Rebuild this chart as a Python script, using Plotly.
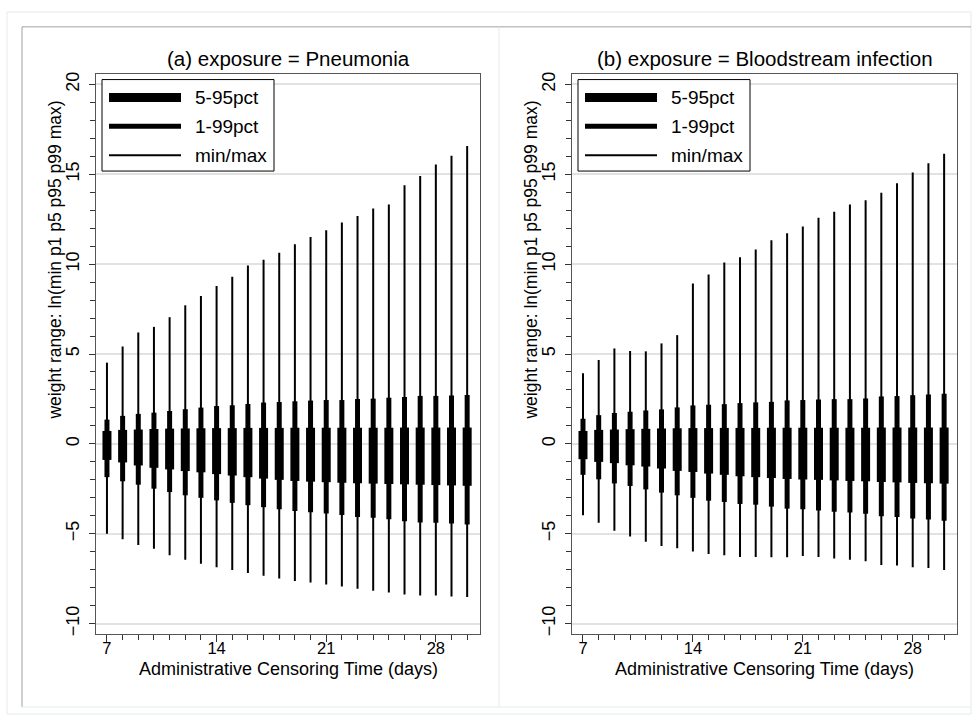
import plotly.graph_objects as go

W, H = 977, 717

days = list(range(7, 31))
x_ticks = [7, 14, 21, 28]
y_ticks = [-10, -5, 0, 5, 10, 15, 20]

panel_titles = ["(a) exposure = Pneumonia", "(b) exposure = Bloodstream infection"]
x_title = "Administrative Censoring Time (days)"
y_title = "weight range: ln(min p1 p5 p95 p99 max)"
legend_labels = ["5-95pct", "1-99pct", "min/max"]

# Pneumonia
pn_min = [-5.00, -5.31, -5.63, -5.83, -6.20, -6.44, -6.66, -6.86, -7.01, -7.18, -7.34, -7.49,
          -7.62, -7.71, -7.82, -7.93, -8.06, -8.17, -8.27, -8.38, -8.43, -8.43, -8.49, -8.51]
pn_p1 = [-1.85, -2.08, -2.27, -2.49, -2.68, -2.86, -3.00, -3.14, -3.28, -3.41, -3.52, -3.63,
         -3.73, -3.80, -3.87, -3.95, -4.06, -4.11, -4.19, -4.30, -4.37, -4.39, -4.43, -4.48]
pn_p5 = [-0.89, -1.03, -1.20, -1.33, -1.42, -1.51, -1.58, -1.68, -1.76, -1.85, -1.93, -2.00,
         -2.06, -2.10, -2.13, -2.16, -2.19, -2.21, -2.23, -2.25, -2.27, -2.29, -2.31, -2.33]
pn_p95 = [0.72, 0.78, 0.80, 0.83, 0.85, 0.86, 0.87, 0.88, 0.88, 0.89, 0.89, 0.89,
          0.90, 0.90, 0.90, 0.90, 0.90, 0.90, 0.90, 0.91, 0.91, 0.91, 0.91, 0.91]
pn_p99 = [1.35, 1.56, 1.67, 1.74, 1.83, 1.93, 2.02, 2.11, 2.15, 2.22, 2.30, 2.33,
          2.37, 2.41, 2.44, 2.44, 2.50, 2.52, 2.57, 2.61, 2.67, 2.67, 2.69, 2.72]
pn_max = [4.52, 5.42, 6.20, 6.51, 7.05, 7.71, 8.23, 8.78, 9.30, 9.93, 10.24, 10.63,
          11.11, 11.51, 11.88, 12.32, 12.68, 13.10, 13.32, 14.39, 14.91, 15.54, 16.03, 16.57]

# Bloodstream infection
bs_min = [-3.97, -4.39, -4.83, -5.15, -5.44, -5.68, -5.81, -5.98, -6.13, -6.20, -6.29, -6.29,
          -6.31, -6.31, -6.24, -6.29, -6.38, -6.44, -6.53, -6.73, -6.77, -6.86, -6.90, -7.01]
bs_p1 = [-1.72, -1.97, -2.20, -2.34, -2.53, -2.71, -2.86, -3.00, -3.16, -3.23, -3.34, -3.38,
         -3.49, -3.60, -3.64, -3.71, -3.78, -3.82, -3.88, -4.03, -4.07, -4.15, -4.21, -4.28]
bs_p5 = [-0.85, -1.00, -1.07, -1.19, -1.26, -1.37, -1.50, -1.56, -1.65, -1.72, -1.80, -1.85,
         -1.90, -1.95, -1.98, -2.00, -2.03, -2.06, -2.08, -2.12, -2.14, -2.17, -2.19, -2.21]
bs_p95 = [0.72, 0.78, 0.80, 0.82, 0.84, 0.86, 0.87, 0.88, 0.88, 0.89, 0.89, 0.89,
          0.90, 0.90, 0.90, 0.90, 0.90, 0.90, 0.90, 0.91, 0.91, 0.91, 0.91, 0.91]
bs_p99 = [1.40, 1.60, 1.72, 1.79, 1.86, 1.92, 2.03, 2.14, 2.18, 2.21, 2.27, 2.31,
          2.34, 2.42, 2.44, 2.47, 2.49, 2.49, 2.53, 2.64, 2.66, 2.71, 2.75, 2.79]
bs_max = [3.93, 4.67, 5.31, 5.17, 5.15, 5.59, 6.05, 8.93, 9.43, 10.09, 10.39, 10.81,
          11.33, 11.72, 12.10, 12.58, 12.92, 13.32, 13.56, 13.97, 14.50, 15.10, 15.61, 16.14]

FONT = "Liberation Sans, Arial, sans-serif"
widths = [9, 5, 2]  # 5-95, 1-99, min/max


def px(x):
    return x / W


def py(y):
    return 1 - y / H


fig = go.Figure()


def add_panel(xa, ya, mins, p1, p5, p95, p99, maxs):
    for lo, hi, w in [(mins, maxs, widths[2]), (p1, p99, widths[1]), (p5, p95, widths[0])]:
        xs, ys = [], []
        for d, a, b in zip(days, lo, hi):
            xs += [d, d, None]
            ys += [a, b, None]
        fig.add_trace(go.Scatter(x=xs, y=ys, mode="lines", line=dict(color="black", width=w),
                                 xaxis=xa, yaxis=ya, showlegend=False, hoverinfo="skip",
                                 connectgaps=False))


add_panel("x", "y", pn_min, pn_p1, pn_p5, pn_p95, pn_p99, pn_max)
add_panel("x2", "y2", bs_min, bs_p1, bs_p5, bs_p95, bs_p99, bs_max)

plot_left = [96, 572]
plot_right = [480, 957]
plot_top, plot_bot = 72, 636

xaxis_common = dict(range=[6.3, 30.82], tickvals=x_ticks, ticks="outside", ticklen=7,
                    tickcolor="#333", tickwidth=1, showline=True, linecolor="#555", linewidth=1,
                    mirror=True, showgrid=False, zeroline=False, ticklabelstandoff=-8,
                    tickfont=dict(family=FONT, size=16.5, color="black"),
                    minor=dict(dtick=1, tick0=0, ticks="outside", ticklen=5, tickcolor="#333",
                               showgrid=False))
yaxis_common = dict(range=[-10.6, 20.6], tickvals=y_ticks, ticks="outside", ticklen=6,
                    tickcolor="#333", tickwidth=1, tickangle=-90, showline=True,
                    linecolor="#555", linewidth=1, mirror=True, showgrid=True,
                    gridcolor="#e2e2e2", gridwidth=1.5, zeroline=False,
                    ticklabelstandoff=3,
                    tickfont=dict(family=FONT, size=18, color="black"),
                    minor=dict(dtick=1, tick0=0, ticks="outside", ticklen=5, tickcolor="#333",
                               showgrid=False),
                    domain=[py(plot_bot), py(plot_top)])

fig.update_layout(
    width=W, height=H, margin=dict(l=0, r=0, t=0, b=0),
    paper_bgcolor="white", plot_bgcolor="white",
    font=dict(family=FONT, color="black"),
    xaxis=dict(domain=[px(plot_left[0]), px(plot_right[0])], anchor="y", **xaxis_common),
    yaxis=dict(anchor="x", **yaxis_common),
    xaxis2=dict(domain=[px(plot_left[1]), px(plot_right[1])], anchor="y2", **xaxis_common),
    yaxis2=dict(anchor="x2", **yaxis_common),
)

shapes = []
annotations = []

# outer frames
shapes.append(dict(type="rect", xref="paper", yref="paper", x0=px(7), x1=px(971), y0=py(716), y1=py(10),
                   line=dict(color="#e4ebeb", width=1), fillcolor="rgba(0,0,0,0)", layer="below"))
shapes.append(dict(type="line", xref="paper", yref="paper", x0=px(22), x1=px(971), y0=py(25), y1=py(25),
                   line=dict(color="#a0a0a0", width=1)))
shapes.append(dict(type="line", xref="paper", yref="paper", x0=px(22), x1=px(22), y0=py(25), y1=py(709),
                   line=dict(color="#a0a0a0", width=1)))
shapes.append(dict(type="line", xref="paper", yref="paper", x0=px(22), x1=px(971), y0=py(709), y1=py(709),
                   line=dict(color="#e4ebeb", width=1)))
shapes.append(dict(type="line", xref="paper", yref="paper", x0=px(499), x1=px(499), y0=py(25), y1=py(709),
                   line=dict(color="#e4ebeb", width=1)))

for i in range(2):
    off = plot_left[i] - plot_left[0]
    cx = (plot_left[i] + plot_right[i]) / 2
    # panel title
    annotations.append(dict(text=panel_titles[i], xref="paper", yref="paper", x=px(cx), y=py(57),
                            xanchor="center", yanchor="middle", showarrow=False,
                            font=dict(family=FONT, size=20.5, color="black")))
    # x title
    annotations.append(dict(text=x_title, xref="paper", yref="paper", x=px(cx), y=py(671),
                            xanchor="center", yanchor="middle", showarrow=False,
                            font=dict(family=FONT, size=18, color="black")))
    # y title
    annotations.append(dict(text=y_title, xref="paper", yref="paper", x=px(55 + off), y=py(260),
                            xanchor="center", yanchor="middle", showarrow=False, textangle=-90,
                            font=dict(family=FONT, size=17.5, color="black")))
    # legend box
    bx0, bx1, by0, by1 = 102 + off, 274 + off, 78, 170
    shapes.append(dict(type="rect", xref="paper", yref="paper", x0=px(bx0), x1=px(bx1),
                       y0=py(by1), y1=py(by0), line=dict(color="black", width=1), fillcolor="white"))
    rows = [96, 125, 154]
    for lab, yy, w in zip(legend_labels, rows, widths):
        shapes.append(dict(type="line", xref="paper", yref="paper", x0=px(109 + off), x1=px(181 + off),
                           y0=py(yy), y1=py(yy), line=dict(color="black", width=w)))
        annotations.append(dict(text=lab, xref="paper", yref="paper", x=px(193 + off), y=py(yy),
                                xanchor="left", yanchor="middle", showarrow=False,
                                font=dict(family=FONT, size=19, color="black")))

fig.update_layout(shapes=shapes, annotations=annotations)

fig.write_html("out.html")
